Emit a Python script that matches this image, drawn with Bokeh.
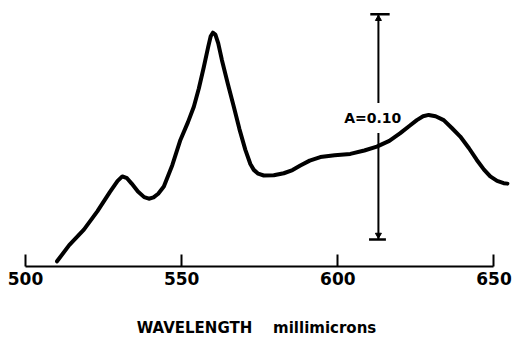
from bokeh.plotting import figure
from bokeh.models import Range1d, FixedTicker, ColumnDataSource
from bokeh.core.properties import value
from bokeh.embed import file_html
from bokeh.resources import INLINE

# Absorption spectrum (wavelength in millimicrons, relative absorbance)
wavelength = [510.1, 514.0, 518.7, 523.0, 527.0, 529.5, 531.0, 532.5, 534.0, 536.0, 538.0,
              539.5, 541.0, 542.5, 544.3, 547.0, 549.6, 552.0, 553.9, 555.5, 557.1, 558.5,
              559.3, 560.0, 560.8, 561.7, 562.9, 564.8, 566.7, 568.5, 570.4, 572.0, 573.1,
              574.5, 576.3, 579.5, 582.7, 585.5, 588.0, 591.0, 594.4, 599.0, 604.0, 608.5,
              612.5, 616.5, 620.0, 623.0, 625.3, 627.3, 629.1, 631.3, 633.9, 636.5, 639.2,
              642.0, 644.5, 646.8, 648.8, 651.0, 653.1, 654.3]
absorbance = [0.0023, 0.0095, 0.0164, 0.0245, 0.0330, 0.0380, 0.0400, 0.0392, 0.0368, 0.0333,
              0.0308, 0.0301, 0.0307, 0.0323, 0.0355, 0.0450, 0.0562, 0.0640, 0.0709, 0.0790,
              0.0886, 0.0975, 0.1022, 0.1038, 0.1030, 0.0992, 0.0916, 0.0810, 0.0709, 0.0610,
              0.0518, 0.0455, 0.0429, 0.0412, 0.0404, 0.0405, 0.0414, 0.0428, 0.0448, 0.0470,
              0.0486, 0.0494, 0.0500, 0.0515, 0.0532, 0.0558, 0.0592, 0.0625, 0.0650, 0.0667,
              0.0673, 0.0667, 0.0650, 0.0615, 0.0577, 0.0525, 0.0473, 0.0430, 0.0400, 0.0380,
              0.0370, 0.0368]

x_ticks = [500, 550, 600, 650]
x_label = "WAVELENGTH\u00a0\u00a0\u00a0\u00a0millimicrons"

# Scale bar: A = 0.10
bar_x = 613.0
bar_bottom = 0.012
bar_length = 0.10
bar_label = "A=0.10"
label_gap = (0.0593, 0.0726)

p = figure(width=512, height=339, output_backend="svg", toolbar_location=None,
           x_range=Range1d(492.0, 655.93), y_range=Range1d(0, 0.1181),
           min_border_left=0, min_border_right=0, min_border_top=0, min_border_bottom=72,
           y_axis_location=None)
p.outline_line_color = None
p.xgrid.visible = False
p.ygrid.visible = False
p.background_fill_color = "white"
p.border_fill_color = "white"

ax = p.xaxis[0]
ax.ticker = FixedTicker(ticks=x_ticks)
ax.bounds = (x_ticks[0], x_ticks[-1])
ax.minor_tick_line_color = None
ax.major_tick_in = 12
ax.major_tick_out = 0
ax.major_tick_line_width = 2
ax.major_tick_line_color = "black"
ax.axis_line_width = 2
ax.axis_line_color = "black"
ax.major_label_text_font = "DejaVu Sans"
ax.major_label_text_font_style = "bold"
ax.major_label_text_font_size = "17px"
ax.major_label_text_color = "black"
ax.major_label_standoff = 5
ax.axis_label = x_label
ax.axis_label_text_font = "DejaVu Sans"
ax.axis_label_text_font_style = "bold"
ax.axis_label_text_font_size = "15px"
ax.axis_label_text_color = "black"
ax.axis_label_text_line_height = 0.8
ax.axis_label_standoff = 31

src = ColumnDataSource(dict(x=wavelength, y=absorbance))
p.line("x", "y", source=src, line_width=4, line_color="black", line_join="round", line_cap="round")

top = bar_bottom + bar_length
p.segment(x0=[bar_x, bar_x], y0=[top, label_gap[0]], x1=[bar_x, bar_x], y1=[label_gap[1], bar_bottom],
          line_width=2, line_color="black")
p.segment(x0=[bar_x - 2.6, bar_x - 3.0], y0=[top, bar_bottom], x1=[bar_x + 3.6, bar_x + 2.4],
          y1=[top, bar_bottom], line_width=2.5, line_color="black")
p.scatter(x=[bar_x], y=[top - 0.002], marker="triangle", size=6, color="black")
p.scatter(x=[bar_x], y=[bar_bottom + 0.002], marker="inverted_triangle", size=6, color="black")
p.text(x=[bar_x - 1.8], y=[(label_gap[0] + label_gap[1]) / 2], text=[bar_label],
       text_font=value("DejaVu Sans"), text_font_style="bold", text_font_size="14px",
       text_align="center", text_baseline="middle", text_color="black")

open("out.html", "w").write(file_html(p, INLINE))
